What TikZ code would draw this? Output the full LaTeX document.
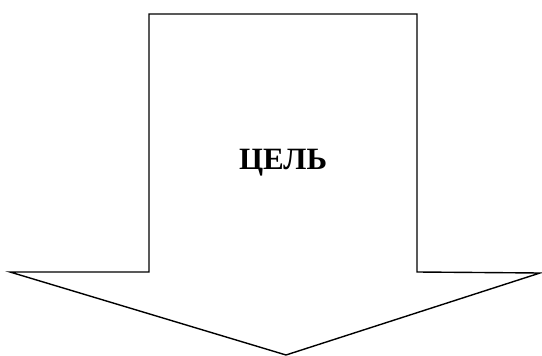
\documentclass[tikz,border=0pt]{standalone}
\usepackage{fontspec}
\setmainfont{Liberation Serif}
\usetikzlibrary{positioning}

\begin{document}
\begin{tikzpicture}[x=1pt,y=-1pt,line width=1.4pt,line join=miter]
  \useasboundingbox (0,0) rectangle (542,356);
  \draw (149,14) -- (417,14) -- (417,272) -- (540,273)
    -- (286,355) -- (10,272) -- (149,272) -- cycle;
  \node[font=\bfseries\fontsize{31}{36}\selectfont] (goal) at (283,163) {ЦЕЛЬ};
\end{tikzpicture}
\end{document}
